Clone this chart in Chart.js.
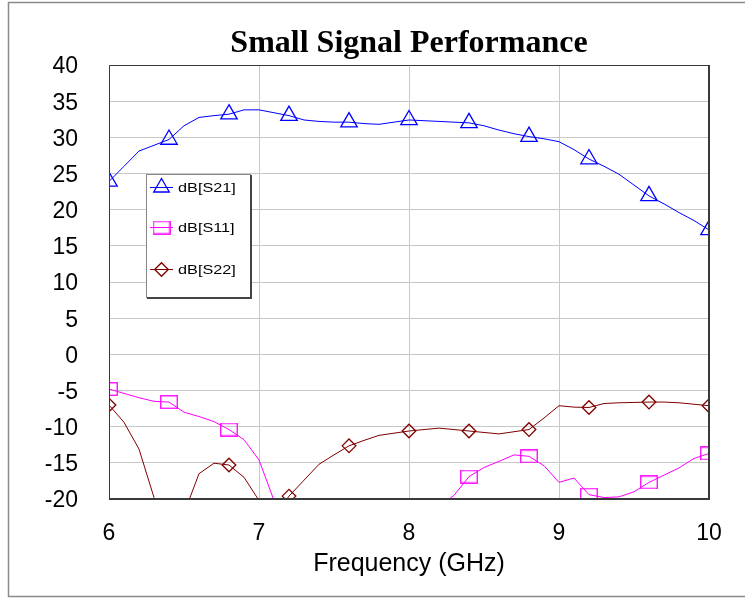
<!DOCTYPE html>
<html>
<head>
<meta charset="utf-8">
<script src="https://cdn.jsdelivr.net/npm/chart.js@4.4.1/dist/chart.umd.min.js"></script>
<style>
html,body{margin:0;padding:0;background:#fff;}
canvas{display:block;}
</style>
</head>
<body>
<canvas id="c" width="745" height="598"></canvas>
<script>
// ---- data ----
const freqGHz = [6.0,6.1,6.2,6.3,6.4,6.5,6.6,6.7,6.8,6.9,
                 7.0,7.1,7.2,7.3,7.4,7.5,7.6,7.7,7.8,7.9,
                 8.0,8.1,8.2,8.3,8.4,8.5,8.6,8.7,8.8,8.9,
                 9.0,9.1,9.2,9.3,9.4,9.5,9.6,9.7,9.8,9.9,10.0];
const dbS21 = [23.9,26.0,28.1,28.9,29.7,31.6,32.75,33.0,33.2,33.8,
               33.8,33.4,33.0,32.4,32.2,32.1,32.1,31.9,31.8,32.1,
               32.4,32.3,32.2,32.1,32.0,31.6,31.0,30.5,30.1,29.8,
               29.4,28.3,27.0,26.0,24.9,23.4,21.9,20.8,19.6,18.5,17.2];
const dbS11 = [-4.8,-5.4,-6.0,-6.5,-6.6,-8.0,-8.6,-9.3,-10.4,-11.8,
               -14.6,-20.2,-25,-28,-30,-32,-33,-31,-29,-27,
               -25,-23,-21,-19.5,-16.9,-15.65,-14.8,-13.9,-14.1,-15.4,
               -17.7,-17.1,-19.4,-19.8,-19.7,-19.0,-17.7,-16.7,-15.7,-14.4,-13.7];
const dbS22 = [-7.0,-9.4,-13.1,-19.8,-25,-22,-16.5,-15.05,-15.3,-17.0,
               -20.2,-22.5,-19.6,-17.4,-15.2,-13.9,-12.65,-11.9,-11.2,-10.9,
               -10.6,-10.4,-10.2,-10.4,-10.6,-10.8,-11.0,-10.7,-10.4,-8.8,
               -7.1,-7.3,-7.35,-6.8,-6.7,-6.65,-6.6,-6.6,-6.7,-6.9,-7.1];
const seriesLabels = ['dB[S21]','dB[S11]','dB[S22]'];
const xTickLabels = [6,7,8,9,10];
const yTickLabels = [-20,-15,-10,-5,0,5,10,15,20,25,30,35,40];
const chartTitle = 'Small Signal Performance';
const xAxisTitle = 'Frequency (GHz)';

// ---- styles ----
const BLUE = '#0000ff', MAGENTA = '#ff00ff', MAROON = '#800000';

function squareMarker(color){
  const c = document.createElement('canvas');
  c.width = 18; c.height = 14;
  const g = c.getContext('2d');
  g.strokeStyle = color; g.lineWidth = 1.3;
  g.strokeRect(0.75, 0.75, 16.5, 12.5);
  return c;
}
const sqMark = squareMarker(MAGENTA);

function toXY(ys){ return ys.map((y,i)=>({x:freqGHz[i], y:y})); }
const markerEvery = 4;
function markR(r){ return ctx => (ctx.dataIndex % markerEvery === 0 ? r : 0); }

const datasets = [
  {label: seriesLabels[0], data: toXY(dbS21), borderColor: BLUE, pointStyle:'triangle',
   pointRadius: markR(9.5), legendRadius: 9},
  {label: seriesLabels[1], data: toXY(dbS11), borderColor: MAGENTA, pointStyle: sqMark,
   pointRadius: markR(9), legendRadius: 9},
  {label: seriesLabels[2], data: toXY(dbS22), borderColor: MAROON, pointStyle:'rectRot',
   pointRadius: markR(6.8), legendRadius: 6.8}
].map(d => Object.assign({
  borderWidth: 1, tension: 0, clip: 0,
  pointBorderColor: d.borderColor, pointBackgroundColor: 'rgba(0,0,0,0)',
  pointBorderWidth: 1.3, fill: false
}, d));

const frame = {
  id: 'frame',
  beforeDraw(chart){
    const c = chart.ctx;
    c.save();
    c.fillStyle = '#fff';
    c.fillRect(0,0,chart.width,chart.height);
    c.strokeStyle = '#8a8a8a'; c.lineWidth = 1.5;
    c.strokeRect(8.5, 2.5, chart.width + 10, 594);
    c.restore();
  },
  afterDatasetsDraw(chart){
    const a = chart.chartArea, c = chart.ctx;
    c.save();
    c.strokeStyle = '#3a3a3a';
    c.lineWidth = 1;
    c.beginPath();
    c.moveTo(a.left + 0.5, a.bottom); c.lineTo(a.left + 0.5, a.top + 0.5); c.lineTo(a.right, a.top + 0.5);
    c.stroke();
    c.lineWidth = 2;
    c.beginPath();
    c.moveTo(a.right, a.top); c.lineTo(a.right, a.bottom); c.lineTo(a.left, a.bottom);
    c.stroke();
    c.restore();
  }
};

const boxLegend = {
  id: 'boxLegend',
  afterDraw(chart){
    const c = chart.ctx;
    const L = 146, T = 174, W = 104, H = 123;
    c.save();
    c.fillStyle = '#fff';
    c.fillRect(L, T, W, H);
    c.strokeStyle = '#888'; c.lineWidth = 1;
    c.strokeRect(L + 0.5, T + 0.5, W, H);
    c.strokeStyle = '#444'; c.lineWidth = 2;
    c.beginPath();
    c.moveTo(L + W + 1, T + 1); c.lineTo(L + W + 1, T + H + 1); c.lineTo(L + 1, T + H + 1);
    c.stroke();
    const rows = [187, 227, 269];
    chart.data.datasets.forEach((ds, i) => {
      const y = rows[i];
      c.strokeStyle = ds.borderColor; c.lineWidth = 1;
      c.beginPath(); c.moveTo(150, y + 0.5); c.lineTo(173, y + 0.5); c.stroke();
      c.fillStyle = 'rgba(0,0,0,0)';
      c.lineWidth = 1.3;
      Chart.helpers.drawPoint(c, {pointStyle: ds.pointStyle, radius: ds.legendRadius, rotation: 0, borderWidth: 1.3}, 161.5, y + 0.5);
      c.save();
      c.translate(178, y + 1);
      c.scale(1.25, 1);
      c.fillStyle = '#000';
      c.font = '13px "Liberation Sans", Arial, sans-serif';
      c.textBaseline = 'middle';
      c.textAlign = 'left';
      c.fillText(ds.label, 0, 0);
      c.restore();
    });
    c.restore();
  }
};

new Chart(document.getElementById('c'), {
  type: 'line',
  data: { datasets },
  options: {
    responsive: false,
    animation: false,
    events: [],
    layout: { padding: { left: 0, top: 0, right: 36, bottom: 0 } },
    plugins: {
      legend: { display: false },
      tooltip: { enabled: false },
      title: {
        display: true, text: chartTitle, fullSize: false, color: '#000',
        font: { family: '"Liberation Serif", "Times New Roman", serif', size: 32, weight: 'bold' },
        padding: { top: 25, bottom: 1.6 }
      }
    },
    scales: {
      x: {
        type: 'linear', min: xTickLabels[0], max: xTickLabels[xTickLabels.length - 1],
        afterBuildTicks: s => { s.ticks = xTickLabels.map(v => ({value: v})); },
        afterFit: s => { s.height = 99; },
        ticks: { color: '#000', padding: 21, maxRotation: 0,
          font: { family: '"Liberation Sans", Arial, sans-serif', size: 23 } },
        grid: { color: '#c8c8c8', lineWidth: 1, drawTicks: false },
        border: { display: false },
        title: { display: true, text: xAxisTitle, color: '#000',
          font: { family: '"Liberation Sans", Arial, sans-serif', size: 25 },
          padding: { top: 0, bottom: 19 } }
      },
      y: {
        type: 'linear', min: yTickLabels[0], max: yTickLabels[yTickLabels.length - 1],
        afterBuildTicks: s => { s.ticks = yTickLabels.map(v => ({value: v})); },
        afterFit: s => { s.width = 109; },
        ticks: { color: '#000', padding: 31, labelOffset: 2,
          font: { family: '"Liberation Sans", Arial, sans-serif', size: 23 } },
        grid: { color: '#c8c8c8', lineWidth: 1, drawTicks: false },
        border: { display: false }
      }
    }
  },
  plugins: [frame, boxLegend]
});
</script>
</body>
</html>
